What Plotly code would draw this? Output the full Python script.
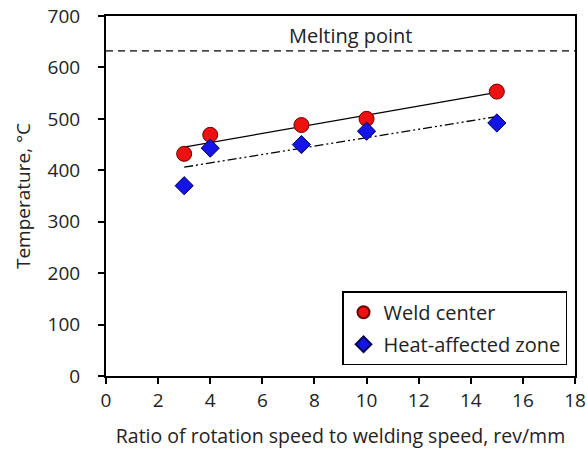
import numpy as np
import plotly.graph_objects as go

ratio = [3, 4, 7.5, 10, 15]
weld_center = [432, 469, 488, 500, 553]
haz = [370, 443, 450, 476, 492]
melting_point = 632
x_ticks = list(range(0, 19, 2))
y_ticks = list(range(0, 701, 100))

font = "Open Sans, Liberation Sans, sans-serif"
fs = 19

fig = go.Figure()

# Fit lines
xr = np.array([min(ratio), max(ratio)], dtype=float)
p1 = np.polyfit(ratio, weld_center, 1)
p2 = np.polyfit(ratio, haz, 1)
fig.add_trace(go.Scatter(x=xr, y=np.polyval(p1, xr), mode="lines",
                         line=dict(color="black", width=1.3), showlegend=False, hoverinfo="skip"))
fig.add_trace(go.Scatter(x=xr, y=np.polyval(p2, xr), mode="lines",
                         line=dict(color="black", width=1.3, dash="9px,3px,2px,3px,2px,3px"),
                         showlegend=False, hoverinfo="skip"))

# Melting point line
fig.add_trace(go.Scatter(x=[0, 18], y=[melting_point, melting_point], mode="lines",
                         line=dict(color="black", width=1.3, dash="7px,5px"),
                         showlegend=False, hoverinfo="skip"))

fig.add_trace(go.Scatter(x=ratio, y=weld_center, mode="markers", name="Weld center",
                         legendgroup="wc",
                         marker=dict(symbol="circle", size=15, color="#ee1111",
                                     line=dict(color="#6b0000", width=1))))
fig.add_trace(go.Scatter(x=ratio, y=haz, mode="markers", name="Heat-affected zone",
                         legendgroup="haz",
                         marker=dict(symbol="diamond", size=14, color="#1414e6",
                                     line=dict(color="#000050", width=1))))

fig.add_annotation(x=9.4, y=663, text="Melting point", showarrow=False,
                   font=dict(family=font, size=20, color="#222"))

axis_common = dict(showline=True, linecolor="black", linewidth=2, mirror=True,
                   ticks="outside", tickcolor="black", tickwidth=2, ticklen=6,
                   showgrid=False, zeroline=False, automargin=False,
                   tickfont=dict(family=font, size=fs, color="#222"))

fig.update_xaxes(range=[0, 18], tickvals=x_ticks, ticklabelstandoff=0,
                 title=dict(text="Ratio of rotation speed to welding speed, rev/mm",
                            font=dict(family=font, size=19.5, color="#222"), standoff=18),
                 **axis_common)
fig.update_yaxes(range=[0, 700], tickvals=y_ticks, ticklabelstandoff=14,
                 title=dict(text="Temperature, °C",
                            font=dict(family=font, size=fs, color="#222"), standoff=12),
                 **axis_common)

fig.update_layout(
    width=587, height=453,
    margin=dict(l=106, r=12, t=16, b=77),
    plot_bgcolor="white", paper_bgcolor="white",
    legend=dict(x=0.983, y=0.03, xanchor="right", yanchor="bottom",
                bordercolor="black", borderwidth=1.5, bgcolor="white",
                font=dict(family=font, size=20, color="#222"),
                itemsizing="constant", tracegroupgap=3, entrywidth=197),
)

fig.write_html("out.html")
